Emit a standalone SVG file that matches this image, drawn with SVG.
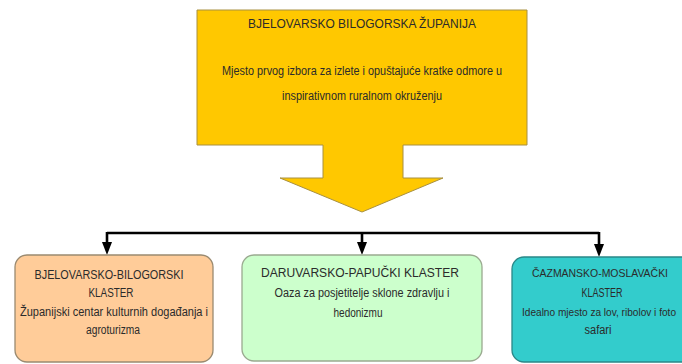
<svg xmlns="http://www.w3.org/2000/svg" width="682" height="364" viewBox="0 0 682 364">
<style>
text{font-family:"Liberation Sans",Arial,sans-serif;font-size:12px;fill:#2b2b2b;text-anchor:middle}
text.r{font-size:10.5px}
.conn{fill:none;stroke:#000;stroke-width:2.6}
.box{stroke-width:1.3}
</style>
<rect width="682" height="364" fill="#fff"/>
<g id="zupanija">
<path d="M197,10 H527 V145 H403 V178 H443 L362,212 L280,178 H323 V145 H197 Z" fill="#FFC800" stroke="#A89040" stroke-width="1"/>
<text x="362" y="28" textLength="228" lengthAdjust="spacingAndGlyphs">BJELOVARSKO BILOGORSKA ŽUPANIJA</text>
<text x="362" y="75" textLength="280" lengthAdjust="spacingAndGlyphs">Mjesto prvog izbora za izlete i opuštajuće kratke  odmore u</text>
<text x="362" y="100" textLength="160" lengthAdjust="spacingAndGlyphs">inspirativnom ruralnom okruženju</text>
</g>
<g id="connectors">
<path class="conn" d="M107,233 H599"/>
<path class="conn" d="M107,232 V246"/>
<path class="conn" d="M362,232 V246"/>
<path class="conn" d="M599,232 V248"/>
<path d="M102,242 L112,242 L107,255 Z" fill="#000"/>
<path d="M357,242 L367,242 L362,255 Z" fill="#000"/>
<path d="M594,244 L604,244 L599,257 Z" fill="#000"/>
</g>
<g id="bjelovarsko">
<rect class="box" x="15" y="255" width="198" height="107" rx="12" fill="#FFCC99" stroke="#9A8A70"/>
<text x="109" y="279" textLength="149" lengthAdjust="spacingAndGlyphs">BJELOVARSKO-BILOGORSKI</text>
<text x="111" y="297" textLength="45" lengthAdjust="spacingAndGlyphs">KLASTER</text>
<text x="114" y="316" textLength="188" lengthAdjust="spacingAndGlyphs">Županijski centar kulturnih događanja i</text>
<text x="113" y="334" textLength="54" lengthAdjust="spacingAndGlyphs">agroturizma</text>
</g>
<g id="daruvarsko">
<rect class="box" x="242" y="255" width="240" height="106" rx="12" fill="#CCFFCC" stroke="#9AAA90"/>
<text x="360" y="277" textLength="198" lengthAdjust="spacingAndGlyphs">DARUVARSKO-PAPUČKI KLASTER</text>
<text x="362" y="297" textLength="175" lengthAdjust="spacingAndGlyphs">Oaza za posjetitelje sklone zdravlju i</text>
<text x="358" y="317" textLength="49" lengthAdjust="spacingAndGlyphs">hedonizmu</text>
</g>
<g id="cazmansko">
<rect class="box" x="512" y="257" width="200" height="105" rx="12" fill="#33CCCC" stroke="#2A8888"/>
<text class="r" x="600" y="277" textLength="136" lengthAdjust="spacingAndGlyphs">ČAZMANSKO-MOSLAVAČKI</text>
<text x="602" y="297" textLength="41" lengthAdjust="spacingAndGlyphs">KLASTER</text>
<text class="r" x="599" y="316" textLength="154" lengthAdjust="spacingAndGlyphs">Idealno mjesto za lov, ribolov i foto</text>
<text x="598" y="334" textLength="27" lengthAdjust="spacingAndGlyphs">safari</text>
</g>
</svg>
